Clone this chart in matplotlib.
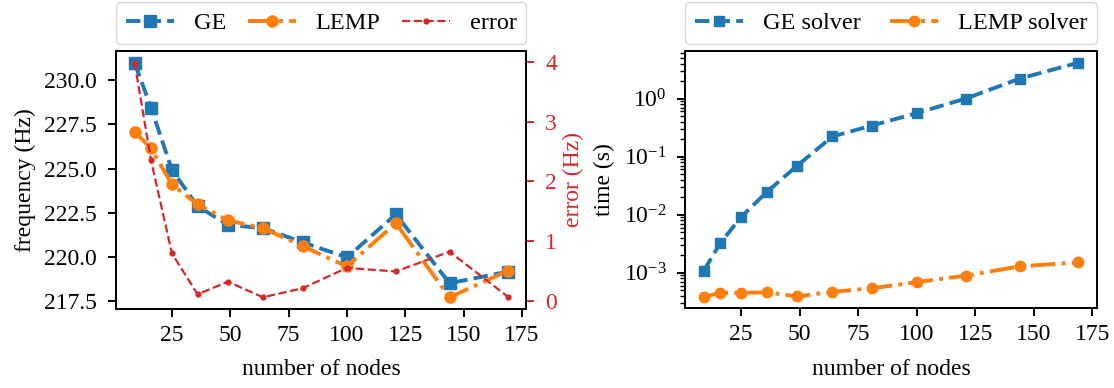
import matplotlib
matplotlib.use("Agg")
import matplotlib.pyplot as plt

plt.rcParams['font.family'] = ['Liberation Serif', 'DejaVu Serif']
plt.rcParams['mathtext.fontset'] = 'stix'
plt.rcParams['font.size'] = 17
plt.rcParams['xtick.labelsize'] = 17
plt.rcParams['ytick.labelsize'] = 17
plt.rcParams['legend.fontsize'] = 17.5
plt.rcParams['axes.linewidth'] = 1.4
for a in ('xtick', 'ytick'):
    plt.rcParams[a + '.major.size'] = 6
    plt.rcParams[a + '.minor.size'] = 3.4
    plt.rcParams[a + '.major.width'] = 1.4
    plt.rcParams[a + '.minor.width'] = 1.0
plt.rcParams['xtick.major.pad'] = 5.5
plt.rcParams['ytick.major.pad'] = 7.5
plt.rcParams['ytick.minor.pad'] = 7.5
plt.rcParams['axes.labelpad'] = 6

nodes = [9, 16, 25, 36, 49, 64, 81, 100, 121, 144, 169]
freq_ge = [231.0, 228.46, 224.92, 222.86, 221.81, 221.62, 220.82, 219.96, 222.4, 218.5, 219.15]
freq_lemp = [227.07, 226.15, 224.1, 222.97, 222.06, 221.62, 220.6, 219.45, 221.9, 217.7, 219.2]
error = [3.98, 2.36, 0.80, 0.12, 0.33, 0.07, 0.22, 0.56, 0.50, 0.83, 0.08]
time_ge = [1.08e-3, 3.2e-3, 9.1e-3, 2.47e-2, 0.07, 0.222, 0.343, 0.56, 1.0, 2.2, 4.14]
time_lemp = [3.85e-4, 4.5e-4, 4.5e-4, 4.6e-4, 3.9e-4, 4.7e-4, 5.4e-4, 6.9e-4, 8.9e-4, 1.29e-3, 1.5e-3]

blue = '#1f77b4'
orange = '#ff7f0e'
red = '#d62728'

fig = plt.figure(figsize=(11.14, 3.88), dpi=100)
ax1 = fig.add_axes([0.1041, 0.2036, 0.3685, 0.665])
ax2 = fig.add_axes([0.6149, 0.2049, 0.3698, 0.6637])

l1, = ax1.plot(nodes, freq_ge, '--', color=blue, marker='s', lw=2.8, ms=8.5, label='GE')
l2, = ax1.plot(nodes, freq_lemp, '-.', color=orange, marker='o', lw=2.8, ms=8, label='LEMP')
ax1.set_xlabel('number of nodes', labelpad=9.5)
ax1.set_ylabel('frequency (Hz)')
ax1.set_yticks([217.5, 220.0, 222.5, 225.0, 227.5, 230.0])
ax1.set_xticks([25, 50, 75, 100, 125, 150, 175])

axt = ax1.twinx()
l3, = axt.plot(nodes, error, '--', color=red, marker='.', lw=1.6, ms=7, label='error')
axt.set_ylabel('error (Hz)', color=red, labelpad=4)
axt.tick_params(axis='y', colors=red)
axt.spines['right'].set_color('black')
axt.set_yticks([0, 1, 2, 3, 4])

ax1.legend(handles=[l1, l2, l3], loc='lower left', bbox_to_anchor=(0, 1.028, 1, 0.1),
           mode='expand', ncol=3, borderaxespad=0, fancybox=True)

ax2.plot(nodes, time_ge, '--', color=blue, marker='s', lw=2.8, ms=7, label='GE solver')
ax2.plot(nodes, time_lemp, '-.', color=orange, marker='o', lw=2.8, ms=7.5, label='LEMP solver')
ax2.set_yscale('log')
ax2.set_xlabel('number of nodes', labelpad=9.5)
ax2.set_ylabel('time (s)')
ax2.set_xticks([25, 50, 75, 100, 125, 150, 175])
ax2.legend(loc='lower left', bbox_to_anchor=(0, 1.028, 1, 0.1),
           mode='expand', ncol=2, borderaxespad=0, fancybox=True)

fig.savefig('out.png', dpi=100)
